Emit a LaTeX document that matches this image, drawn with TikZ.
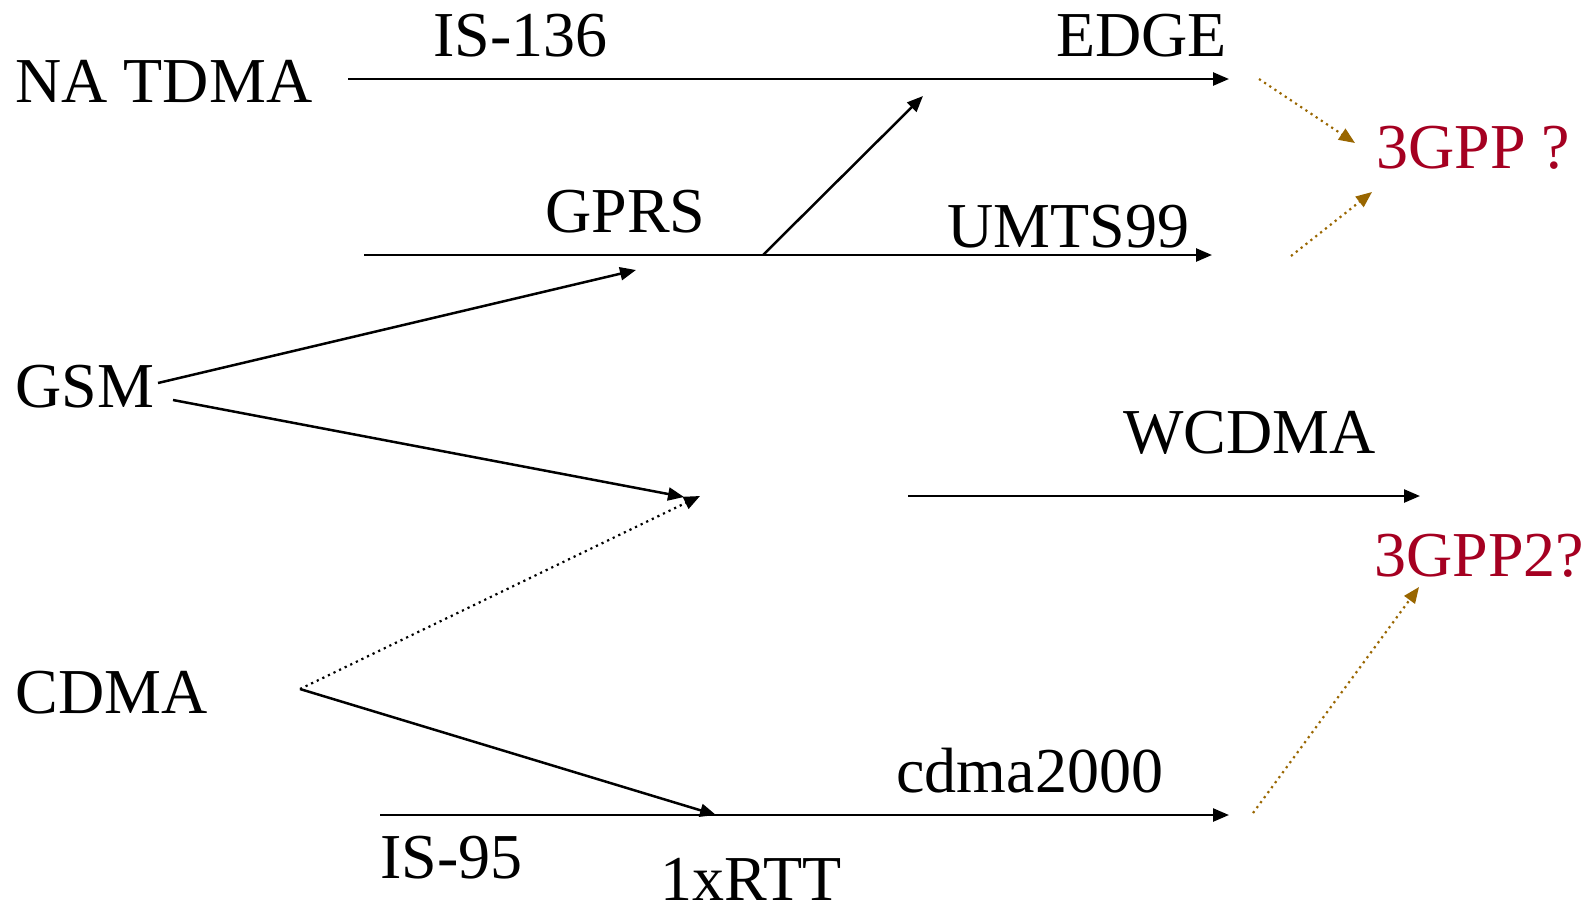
\documentclass[tikz,border=0pt]{standalone}
\usepackage{fontspec}
\setmainfont{Liberation Serif}
\usetikzlibrary{arrows.meta}
\definecolor{gppred}{RGB}{165,0,33}
\definecolor{gppbrown}{RGB}{153,102,0}
\begin{document}
\begin{tikzpicture}[x=0.5pt,y=-0.5pt,
  lbl/.style={anchor=base west,inner sep=0pt,font=\fontsize{32}{38}\selectfont},
  red lbl/.style={lbl,text=gppred},
  arr/.style={line width=1.25pt,-{Triangle[length=8pt,width=6.5pt]}},
  dotarr/.style={line width=1.1pt,dash pattern=on 1.1pt off 2pt,-{Triangle[length=8pt,width=6.5pt]}},
  brownarr/.style={dotarr,draw=gppbrown,color=gppbrown}]
\useasboundingbox (0,0) rectangle (1596,907);
% labels
\node[lbl] (natdma) at (15,102) {NA TDMA};
\node[lbl] (is136) at (433,56) {IS-136};
\node[lbl] (edge) at (1056,56) {EDGE};
\node[red lbl] (gpp) at (1376,168) {3GPP ?};
\node[lbl] (gprs) at (545,232) {GPRS};
\node[lbl] (umts) at (947,247) {UMTS99};
\node[lbl] (gsm) at (15,407) {GSM};
\node[lbl] (wcdma) at (1123,453) {WCDMA};
\node[red lbl] (gpptwo) at (1374,576) {3GPP2?};
\node[lbl] (cdma) at (15,713) {CDMA};
\node[lbl] (cdmatwo) at (896,792) {cdma2000};
\node[lbl] (is95) at (380,878) {IS-95};
\node[lbl] (rtt) at (660,900) {1xRTT};
% coordinates
\coordinate (naS) at (348,79);
\coordinate (naE) at (1229,79);
\coordinate (gpS) at (364,255);
\coordinate (gpE) at (1212,255);
\coordinate (gpB) at (763,255);
\coordinate (edT) at (923,96);
\coordinate (gsmA) at (158,383);
\coordinate (gprsT) at (636,270);
\coordinate (gsmB) at (173,400);
\coordinate (midT) at (684,497);
\coordinate (cdA) at (300,689);
\coordinate (midT2) at (700,496);
\coordinate (wcS) at (908,496);
\coordinate (wcE) at (1420,496);
\coordinate (rttT) at (716,815);
\coordinate (isS) at (380,815);
\coordinate (isE) at (1229,815);
\coordinate (b1S) at (1259,79);
\coordinate (b1E) at (1355,143);
\coordinate (b2S) at (1291,256);
\coordinate (b2E) at (1372,192);
\coordinate (b3S) at (1253,813);
\coordinate (b3E) at (1419,587);
% connectors
\draw[arr] (naS) -- (naE);
\draw[arr] (gpS) -- (gpE);
\draw[arr] (gpB) -- (edT);
\draw[arr] (gsmA) -- (gprsT);
\draw[arr] (gsmB) -- (midT);
\draw[dotarr] (cdA) -- (midT2);
\draw[arr] (wcS) -- (wcE);
\draw[arr] (cdA) -- (rttT);
\draw[arr] (isS) -- (isE);
\draw[brownarr] (b1S) -- (b1E);
\draw[brownarr] (b2S) -- (b2E);
\draw[brownarr] (b3S) -- (b3E);
\end{tikzpicture}
\end{document}
